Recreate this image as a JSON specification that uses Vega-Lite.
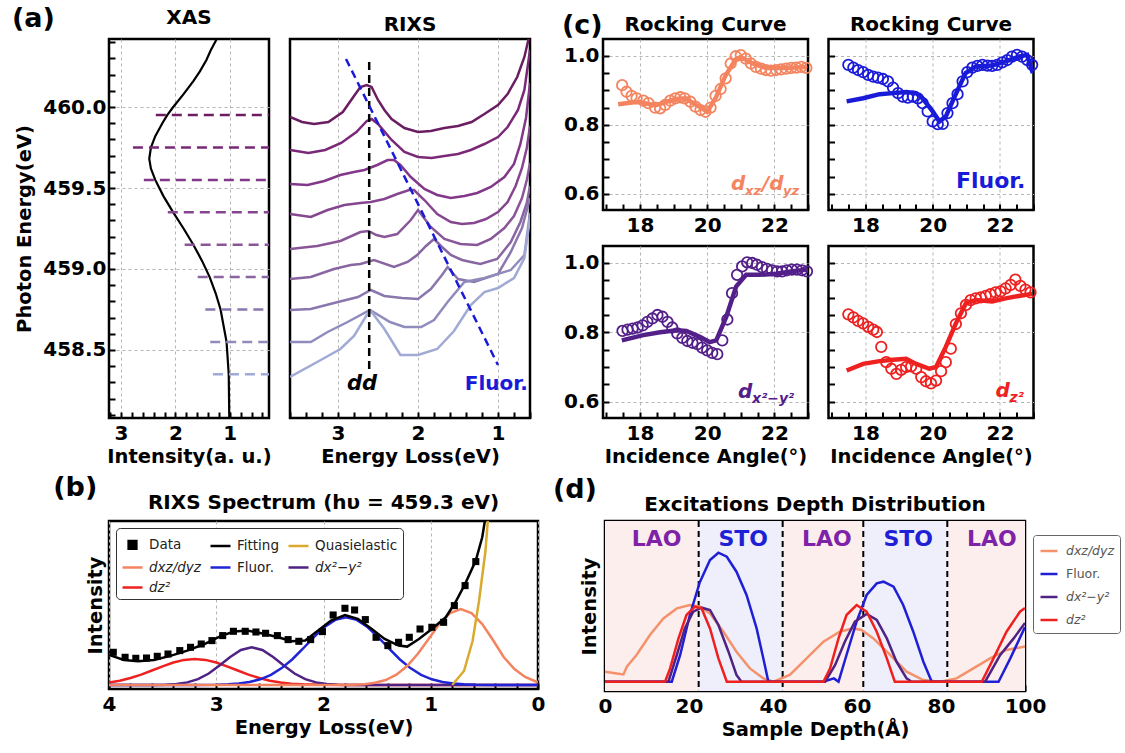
{
"$schema":"https://vega.github.io/schema/vega-lite/v6.json",
"background":"white",
"padding":{"left":12,"top":4,"right":5,"bottom":5},
"config":{
 "font":"DejaVu Sans",
 "view":{"stroke":"black","strokeWidth":2.5},
 "axis":{"labelFont":"DejaVu Sans","labelFontWeight":"bold","labelFontSize":20,"labelColor":"black",
   "titleFont":"DejaVu Sans","titleFontWeight":"bold","titleFontSize":19.5,"titleColor":"black",
   "domain":false,"ticks":true,"tickColor":"black","tickWidth":2,"tickSize":-6,"tickCount":200,
   "gridColor":"#b5b5b5","gridDash":[3,3],"gridWidth":1,"labelOverlap":false,"labelFlush":false},
 "title":{"font":"DejaVu Sans","fontWeight":"bold","fontSize":20,"color":"black","offset":0,"anchor":"middle"},
 "legend":{"labelFont":"DejaVu Sans"}
},
"datasets":{
 "xas":[{"i":1.01,"e":458.08},{"i":1.02,"e":458.35},{"i":1.06,"e":458.55},{"i":1.17,"e":458.75},{"i":1.26,"e":458.85},{"i":1.37,"e":458.95},{"i":1.51,"e":459.05},{"i":1.67,"e":459.15},{"i":1.85,"e":459.25},{"i":2.04,"e":459.35},{"i":2.22,"e":459.45},{"i":2.37,"e":459.55},{"i":2.45,"e":459.62},{"i":2.48,"e":459.68},{"i":2.45,"e":459.75},{"i":2.37,"e":459.82},{"i":2.24,"e":459.9},{"i":2.15,"e":459.95},{"i":2.04,"e":460.0},{"i":1.85,"e":460.08},{"i":1.67,"e":460.16},{"i":1.55,"e":460.22},{"i":1.43,"e":460.29},{"i":1.35,"e":460.35},{"i":1.24,"e":460.42}],
 "xasdash":[{"k":1,"e":459.95,"i0":2.36},{"k":2,"e":459.75,"i0":2.78},{"k":3,"e":459.55,"i0":2.58},{"k":4,"e":459.35,"i0":2.14},{"k":5,"e":459.15,"i0":1.83},{"k":6,"e":458.95,"i0":1.59},{"k":7,"e":458.75,"i0":1.45},{"k":8,"e":458.55,"i0":1.36},{"k":9,"e":458.35,"i0":1.31}],
 "rixs":[
 {"k":1,"e":3.6,"y":301},{"k":1,"e":3.45,"y":296},{"k":1,"e":3.3,"y":294},{"k":1,"e":3.12,"y":296},{"k":1,"e":2.94,"y":306},{"k":1,"e":2.8,"y":322},{"k":1,"e":2.72,"y":331},{"k":1,"e":2.64,"y":333},{"k":1,"e":2.58,"y":331},{"k":1,"e":2.5,"y":318},{"k":1,"e":2.42,"y":308},{"k":1,"e":2.33,"y":299},{"k":1,"e":2.17,"y":290},{"k":1,"e":2.0,"y":286},{"k":1,"e":1.84,"y":287},{"k":1,"e":1.67,"y":290},{"k":1,"e":1.5,"y":292},{"k":1,"e":1.33,"y":296},{"k":1,"e":1.17,"y":304},{"k":1,"e":1.0,"y":313},{"k":1,"e":0.88,"y":324},{"k":1,"e":0.76,"y":341},{"k":1,"e":0.67,"y":361},{"k":1,"e":0.6,"y":385},
 {"k":2,"e":3.6,"y":268},{"k":2,"e":3.37,"y":265},{"k":2,"e":3.16,"y":268},{"k":2,"e":2.96,"y":275},{"k":2,"e":2.77,"y":286},{"k":2,"e":2.64,"y":297},{"k":2,"e":2.58,"y":299},{"k":2,"e":2.5,"y":294},{"k":2,"e":2.33,"y":278},{"k":2,"e":2.17,"y":266},{"k":2,"e":2.0,"y":261},{"k":2,"e":1.83,"y":260},{"k":2,"e":1.67,"y":262},{"k":2,"e":1.5,"y":264},{"k":2,"e":1.34,"y":268},{"k":2,"e":1.17,"y":274},{"k":2,"e":1.0,"y":281},{"k":2,"e":0.88,"y":291},{"k":2,"e":0.75,"y":308},{"k":2,"e":0.67,"y":328},{"k":2,"e":0.6,"y":368},
 {"k":3,"e":3.6,"y":234},{"k":3,"e":3.38,"y":233},{"k":3,"e":3.17,"y":237},{"k":3,"e":2.97,"y":243},{"k":3,"e":2.8,"y":246},{"k":3,"e":2.67,"y":248},{"k":3,"e":2.51,"y":253},{"k":3,"e":2.38,"y":258},{"k":3,"e":2.3,"y":258},{"k":3,"e":2.22,"y":253},{"k":3,"e":2.09,"y":241},{"k":3,"e":1.92,"y":229},{"k":3,"e":1.76,"y":223},{"k":3,"e":1.59,"y":220},{"k":3,"e":1.42,"y":222},{"k":3,"e":1.26,"y":225},{"k":3,"e":1.09,"y":231},{"k":3,"e":0.92,"y":241},{"k":3,"e":0.8,"y":254},{"k":3,"e":0.72,"y":274},{"k":3,"e":0.65,"y":300},{"k":3,"e":0.6,"y":335},
 {"k":4,"e":3.6,"y":204},{"k":4,"e":3.34,"y":201},{"k":4,"e":3.13,"y":208},{"k":4,"e":2.92,"y":213},{"k":4,"e":2.72,"y":215},{"k":4,"e":2.59,"y":216},{"k":4,"e":2.42,"y":219},{"k":4,"e":2.26,"y":224},{"k":4,"e":2.11,"y":228},{"k":4,"e":2.05,"y":228},{"k":4,"e":1.92,"y":218},{"k":4,"e":1.76,"y":204},{"k":4,"e":1.59,"y":196},{"k":4,"e":1.45,"y":194},{"k":4,"e":1.3,"y":195},{"k":4,"e":1.15,"y":199},{"k":4,"e":1.0,"y":206},{"k":4,"e":0.88,"y":216},{"k":4,"e":0.78,"y":232},{"k":4,"e":0.7,"y":250},{"k":4,"e":0.64,"y":270},{"k":4,"e":0.6,"y":292},
 {"k":5,"e":3.6,"y":169},{"k":5,"e":3.26,"y":172},{"k":5,"e":2.97,"y":177},{"k":5,"e":2.72,"y":186},{"k":5,"e":2.62,"y":187},{"k":5,"e":2.52,"y":183},{"k":5,"e":2.42,"y":181},{"k":5,"e":2.26,"y":184},{"k":5,"e":2.09,"y":198},{"k":5,"e":2.0,"y":208},{"k":5,"e":1.84,"y":191},{"k":5,"e":1.67,"y":179},{"k":5,"e":1.47,"y":174},{"k":5,"e":1.26,"y":173},{"k":5,"e":1.09,"y":179},{"k":5,"e":0.92,"y":190},{"k":5,"e":0.8,"y":202},{"k":5,"e":0.7,"y":220},{"k":5,"e":0.64,"y":238},{"k":5,"e":0.6,"y":255},
 {"k":6,"e":3.6,"y":139},{"k":6,"e":3.34,"y":141},{"k":6,"e":3.05,"y":149},{"k":6,"e":2.84,"y":153},{"k":6,"e":2.72,"y":154},{"k":6,"e":2.55,"y":158},{"k":6,"e":2.3,"y":151},{"k":6,"e":2.13,"y":156},{"k":6,"e":2.01,"y":163},{"k":6,"e":1.9,"y":172},{"k":6,"e":1.8,"y":179},{"k":6,"e":1.7,"y":171},{"k":6,"e":1.59,"y":163},{"k":6,"e":1.45,"y":158},{"k":6,"e":1.34,"y":156},{"k":6,"e":1.22,"y":154},{"k":6,"e":1.01,"y":159},{"k":6,"e":0.84,"y":176},{"k":6,"e":0.72,"y":196},{"k":6,"e":0.64,"y":215},{"k":6,"e":0.6,"y":232},
 {"k":7,"e":3.6,"y":108},{"k":7,"e":3.34,"y":109},{"k":7,"e":3.0,"y":116},{"k":7,"e":2.75,"y":121},{"k":7,"e":2.59,"y":128},{"k":7,"e":2.42,"y":122},{"k":7,"e":2.2,"y":120},{"k":7,"e":2.0,"y":119},{"k":7,"e":1.84,"y":129},{"k":7,"e":1.7,"y":143},{"k":7,"e":1.63,"y":151},{"k":7,"e":1.5,"y":139},{"k":7,"e":1.3,"y":136},{"k":7,"e":1.0,"y":144},{"k":7,"e":0.84,"y":166},{"k":7,"e":0.7,"y":190},{"k":7,"e":0.6,"y":220},
 {"k":8,"e":3.6,"y":76},{"k":8,"e":3.34,"y":76},{"k":8,"e":3.13,"y":86},{"k":8,"e":2.88,"y":96},{"k":8,"e":2.6,"y":108},{"k":8,"e":2.35,"y":96},{"k":8,"e":2.17,"y":91},{"k":8,"e":1.96,"y":91},{"k":8,"e":1.8,"y":98},{"k":8,"e":1.63,"y":116},{"k":8,"e":1.42,"y":136},{"k":8,"e":1.17,"y":140},{"k":8,"e":0.84,"y":148},{"k":8,"e":0.67,"y":163},{"k":8,"e":0.6,"y":205},
 {"k":9,"e":3.6,"y":41},{"k":9,"e":3.26,"y":56},{"k":9,"e":2.97,"y":69},{"k":9,"e":2.8,"y":82},{"k":9,"e":2.64,"y":103},{"k":9,"e":2.58,"y":106},{"k":9,"e":2.42,"y":89},{"k":9,"e":2.22,"y":63},{"k":9,"e":2.0,"y":63},{"k":9,"e":1.76,"y":69},{"k":9,"e":1.55,"y":87},{"k":9,"e":1.34,"y":113},{"k":9,"e":1.17,"y":126},{"k":9,"e":1.0,"y":130},{"k":9,"e":0.8,"y":140},{"k":9,"e":0.67,"y":160},{"k":9,"e":0.6,"y":200}
 ],
 "c1p":[{"a":17.47,"v":0.915},{"a":17.6,"v":0.896},{"a":17.75,"v":0.884},{"a":17.9,"v":0.877},{"a":18.1,"v":0.87},{"a":18.25,"v":0.863},{"a":18.45,"v":0.85},{"a":18.6,"v":0.848},{"a":18.75,"v":0.858},{"a":18.9,"v":0.87},{"a":19.05,"v":0.877},{"a":19.2,"v":0.88},{"a":19.33,"v":0.877},{"a":19.5,"v":0.867},{"a":19.65,"v":0.853},{"a":19.8,"v":0.843},{"a":19.95,"v":0.838},{"a":20.1,"v":0.85},{"a":20.25,"v":0.884},{"a":20.4,"v":0.904},{"a":20.55,"v":0.935},{"a":20.7,"v":0.978},{"a":20.85,"v":0.999},{"a":21.0,"v":1.002},{"a":21.15,"v":0.992},{"a":21.3,"v":0.978},{"a":21.45,"v":0.968},{"a":21.6,"v":0.963},{"a":21.75,"v":0.959},{"a":21.9,"v":0.957},{"a":22.05,"v":0.959},{"a":22.2,"v":0.961},{"a":22.35,"v":0.963},{"a":22.5,"v":0.965},{"a":22.65,"v":0.966},{"a":22.8,"v":0.968},{"a":22.95,"v":0.965}],
 "c1f":[{"a":17.35,"v":0.86},{"a":17.95,"v":0.867},{"a":18.45,"v":0.856},{"a":19.05,"v":0.875},{"a":19.35,"v":0.877},{"a":19.85,"v":0.848},{"a":20.0,"v":0.838},{"a":20.25,"v":0.877},{"a":20.55,"v":0.944},{"a":20.85,"v":0.99},{"a":21.0,"v":0.997},{"a":21.35,"v":0.978},{"a":21.75,"v":0.965},{"a":22.35,"v":0.965},{"a":22.95,"v":0.968}],
 "c2p":[{"a":17.49,"v":0.974},{"a":17.64,"v":0.966},{"a":17.78,"v":0.959},{"a":17.93,"v":0.953},{"a":18.08,"v":0.945},{"a":18.23,"v":0.94},{"a":18.37,"v":0.937},{"a":18.52,"v":0.933},{"a":18.67,"v":0.926},{"a":18.82,"v":0.908},{"a":18.97,"v":0.892},{"a":19.11,"v":0.882},{"a":19.26,"v":0.879},{"a":19.41,"v":0.882},{"a":19.56,"v":0.877},{"a":19.7,"v":0.863},{"a":19.85,"v":0.839},{"a":20.0,"v":0.81},{"a":20.15,"v":0.802},{"a":20.3,"v":0.803},{"a":20.44,"v":0.834},{"a":20.59,"v":0.863},{"a":20.74,"v":0.889},{"a":20.89,"v":0.926},{"a":21.03,"v":0.953},{"a":21.18,"v":0.966},{"a":21.33,"v":0.971},{"a":21.48,"v":0.974},{"a":21.63,"v":0.972},{"a":21.77,"v":0.971},{"a":21.92,"v":0.974},{"a":22.07,"v":0.981},{"a":22.22,"v":0.988},{"a":22.36,"v":0.998},{"a":22.51,"v":1.003},{"a":22.66,"v":0.998},{"a":22.81,"v":0.988},{"a":22.96,"v":0.974}],
 "c2f":[{"a":17.44,"v":0.868},{"a":17.93,"v":0.877},{"a":18.42,"v":0.889},{"a":18.82,"v":0.892},{"a":19.21,"v":0.895},{"a":19.51,"v":0.892},{"a":19.7,"v":0.877},{"a":20.0,"v":0.839},{"a":20.2,"v":0.81},{"a":20.39,"v":0.824},{"a":20.59,"v":0.868},{"a":20.79,"v":0.911},{"a":20.98,"v":0.95},{"a":21.28,"v":0.969},{"a":21.77,"v":0.972},{"a":22.17,"v":0.984},{"a":22.56,"v":0.998},{"a":22.81,"v":1.003},{"a":22.98,"v":0.95}],
 "c3p":[{"a":17.48,"v":0.804},{"a":17.63,"v":0.808},{"a":17.78,"v":0.811},{"a":17.93,"v":0.814},{"a":18.08,"v":0.82},{"a":18.22,"v":0.83},{"a":18.37,"v":0.84},{"a":18.52,"v":0.85},{"a":18.67,"v":0.845},{"a":18.82,"v":0.83},{"a":18.96,"v":0.814},{"a":19.11,"v":0.797},{"a":19.26,"v":0.784},{"a":19.41,"v":0.775},{"a":19.56,"v":0.77},{"a":19.71,"v":0.766},{"a":19.85,"v":0.756},{"a":20.0,"v":0.748},{"a":20.15,"v":0.741},{"a":20.3,"v":0.737},{"a":20.45,"v":0.777},{"a":20.6,"v":0.837},{"a":20.74,"v":0.913},{"a":20.89,"v":0.966},{"a":21.04,"v":0.99},{"a":21.19,"v":1.002},{"a":21.34,"v":1.0},{"a":21.48,"v":0.995},{"a":21.63,"v":0.988},{"a":21.78,"v":0.983},{"a":21.93,"v":0.979},{"a":22.08,"v":0.976},{"a":22.23,"v":0.976},{"a":22.37,"v":0.979},{"a":22.52,"v":0.981},{"a":22.67,"v":0.981},{"a":22.82,"v":0.979},{"a":22.97,"v":0.976}],
 "c3f":[{"a":17.46,"v":0.777},{"a":18.1,"v":0.792},{"a":18.6,"v":0.8},{"a":19.09,"v":0.806},{"a":19.38,"v":0.804},{"a":19.78,"v":0.787},{"a":20.07,"v":0.772},{"a":20.27,"v":0.777},{"a":20.57,"v":0.845},{"a":20.86,"v":0.932},{"a":21.16,"v":0.966},{"a":21.56,"v":0.966},{"a":22.05,"v":0.969},{"a":22.54,"v":0.976},{"a":22.99,"v":0.981}],
 "c4p":[{"a":17.49,"v":0.852},{"a":17.64,"v":0.843},{"a":17.78,"v":0.833},{"a":17.93,"v":0.826},{"a":18.08,"v":0.816},{"a":18.23,"v":0.808},{"a":18.34,"v":0.801},{"a":18.47,"v":0.758},{"a":18.62,"v":0.714},{"a":18.77,"v":0.695},{"a":18.92,"v":0.68},{"a":19.06,"v":0.692},{"a":19.21,"v":0.7},{"a":19.36,"v":0.702},{"a":19.51,"v":0.695},{"a":19.66,"v":0.671},{"a":19.8,"v":0.659},{"a":19.95,"v":0.653},{"a":20.1,"v":0.661},{"a":20.25,"v":0.688},{"a":20.39,"v":0.714},{"a":20.54,"v":0.753},{"a":20.69,"v":0.824},{"a":20.84,"v":0.855},{"a":20.99,"v":0.879},{"a":21.13,"v":0.893},{"a":21.28,"v":0.898},{"a":21.43,"v":0.901},{"a":21.58,"v":0.905},{"a":21.72,"v":0.91},{"a":21.87,"v":0.915},{"a":22.02,"v":0.918},{"a":22.17,"v":0.927},{"a":22.32,"v":0.937},{"a":22.46,"v":0.952},{"a":22.61,"v":0.934},{"a":22.76,"v":0.923},{"a":22.91,"v":0.915}],
 "c4f":[{"a":17.44,"v":0.69},{"a":17.93,"v":0.709},{"a":18.42,"v":0.717},{"a":18.82,"v":0.721},{"a":19.21,"v":0.724},{"a":19.51,"v":0.709},{"a":19.9,"v":0.695},{"a":20.1,"v":0.7},{"a":20.39,"v":0.758},{"a":20.69,"v":0.826},{"a":20.99,"v":0.884},{"a":21.28,"v":0.893},{"a":21.77,"v":0.889},{"a":22.17,"v":0.898},{"a":22.56,"v":0.905},{"a":22.96,"v":0.911}],
 "bdata":[{"s":"Data","e":3.96,"y":32.7},{"s":"Data","e":3.85,"y":27.7},{"s":"Data","e":3.75,"y":26.7},{"s":"Data","e":3.65,"y":27},{"s":"Data","e":3.55,"y":28.7},{"s":"Data","e":3.45,"y":31},{"s":"Data","e":3.34,"y":34.4},{"s":"Data","e":3.24,"y":37.7},{"s":"Data","e":3.14,"y":41},{"s":"Data","e":3.04,"y":44.4},{"s":"Data","e":2.94,"y":49.4},{"s":"Data","e":2.84,"y":53.7},{"s":"Data","e":2.73,"y":53.7},{"s":"Data","e":2.63,"y":53},{"s":"Data","e":2.54,"y":51.7},{"s":"Data","e":2.43,"y":49.4},{"s":"Data","e":2.33,"y":45.4},{"s":"Data","e":2.23,"y":43.7},{"s":"Data","e":2.12,"y":45.4},{"s":"Data","e":2.01,"y":53.4},{"s":"Data","e":1.91,"y":70},{"s":"Data","e":1.8,"y":76.7},{"s":"Data","e":1.71,"y":75},{"s":"Data","e":1.61,"y":65.4},{"s":"Data","e":1.51,"y":47.7},{"s":"Data","e":1.4,"y":39.4},{"s":"Data","e":1.3,"y":42.7},{"s":"Data","e":1.2,"y":47.7},{"s":"Data","e":1.1,"y":56},{"s":"Data","e":0.99,"y":57.7},{"s":"Data","e":0.88,"y":62.7},{"s":"Data","e":0.78,"y":79.4},{"s":"Data","e":0.68,"y":99.4},{"s":"Data","e":0.58,"y":123.4}],
 "bfit":[{"s":"Fitting","e":4.0,"y":30},{"s":"Fitting","e":3.98,"y":29.4},{"s":"Fitting","e":3.86,"y":25},{"s":"Fitting","e":3.73,"y":23.7},{"s":"Fitting","e":3.58,"y":25},{"s":"Fitting","e":3.42,"y":29.4},{"s":"Fitting","e":3.27,"y":34.4},{"s":"Fitting","e":3.11,"y":41},{"s":"Fitting","e":2.95,"y":49.4},{"s":"Fitting","e":2.83,"y":53.4},{"s":"Fitting","e":2.71,"y":54.4},{"s":"Fitting","e":2.58,"y":51.7},{"s":"Fitting","e":2.42,"y":47.7},{"s":"Fitting","e":2.3,"y":43.7},{"s":"Fitting","e":2.17,"y":44.4},{"s":"Fitting","e":2.05,"y":54.4},{"s":"Fitting","e":1.93,"y":64.4},{"s":"Fitting","e":1.8,"y":70},{"s":"Fitting","e":1.68,"y":66},{"s":"Fitting","e":1.55,"y":56},{"s":"Fitting","e":1.43,"y":46},{"s":"Fitting","e":1.3,"y":39.4},{"s":"Fitting","e":1.22,"y":38.4},{"s":"Fitting","e":1.11,"y":46},{"s":"Fitting","e":0.99,"y":56},{"s":"Fitting","e":0.86,"y":67.7},{"s":"Fitting","e":0.77,"y":82.7},{"s":"Fitting","e":0.68,"y":101},{"s":"Fitting","e":0.58,"y":124.4},{"s":"Fitting","e":0.52,"y":147.7},{"s":"Fitting","e":0.49,"y":167.7}],
 "bcomp":[
 {"s":"dz²","e":4.0,"y":2.5},{"s":"dz²","e":3.9,"y":4.3},{"s":"dz²","e":3.8,"y":7.0},{"s":"dz²","e":3.7,"y":10.4},{"s":"dz²","e":3.6,"y":14.5},{"s":"dz²","e":3.5,"y":18.7},{"s":"dz²","e":3.4,"y":22.5},{"s":"dz²","e":3.3,"y":25.1},{"s":"dz²","e":3.2,"y":26},{"s":"dz²","e":3.1,"y":25.1},{"s":"dz²","e":3.0,"y":22.5},{"s":"dz²","e":2.9,"y":18.7},{"s":"dz²","e":2.8,"y":14.5},{"s":"dz²","e":2.7,"y":10.4},{"s":"dz²","e":2.6,"y":7.0},{"s":"dz²","e":2.5,"y":4.3},{"s":"dz²","e":2.4,"y":2.5},{"s":"dz²","e":2.3,"y":1.35},{"s":"dz²","e":2.2,"y":0.67},{"s":"dz²","e":2.0,"y":0.14},{"s":"dz²","e":1.8,"y":0},{"s":"dz²","e":0,"y":0},
 {"s":"dx²−y²","e":4.0,"y":0},{"s":"dx²−y²","e":3.57,"y":0.1},{"s":"dx²−y²","e":3.47,"y":0.33},{"s":"dx²−y²","e":3.37,"y":1.0},{"s":"dx²−y²","e":3.27,"y":2.6},{"s":"dx²−y²","e":3.17,"y":5.9},{"s":"dx²−y²","e":3.07,"y":11.5},{"s":"dx²−y²","e":2.97,"y":19.4},{"s":"dx²−y²","e":2.87,"y":28.0},{"s":"dx²−y²","e":2.77,"y":35.0},{"s":"dx²−y²","e":2.67,"y":37.7},{"s":"dx²−y²","e":2.57,"y":35.0},{"s":"dx²−y²","e":2.47,"y":28.0},{"s":"dx²−y²","e":2.37,"y":19.4},{"s":"dx²−y²","e":2.27,"y":11.5},{"s":"dx²−y²","e":2.17,"y":5.9},{"s":"dx²−y²","e":2.07,"y":2.6},{"s":"dx²−y²","e":1.97,"y":1.0},{"s":"dx²−y²","e":1.87,"y":0.33},{"s":"dx²−y²","e":1.77,"y":0.1},{"s":"dx²−y²","e":1.5,"y":0},{"s":"dx²−y²","e":0,"y":0},
 {"s":"Fluor.","e":4.0,"y":0},{"s":"Fluor.","e":3.19,"y":0},{"s":"Fluor.","e":2.99,"y":0.26},{"s":"Fluor.","e":2.89,"y":0.64},{"s":"Fluor.","e":2.79,"y":1.4},{"s":"Fluor.","e":2.69,"y":3.0},{"s":"Fluor.","e":2.59,"y":5.7},{"s":"Fluor.","e":2.49,"y":10.2},{"s":"Fluor.","e":2.39,"y":16.9},{"s":"Fluor.","e":2.29,"y":25.8},{"s":"Fluor.","e":2.19,"y":36.5},{"s":"Fluor.","e":2.09,"y":47.9},{"s":"Fluor.","e":1.99,"y":58.0},{"s":"Fluor.","e":1.89,"y":65.1},{"s":"Fluor.","e":1.79,"y":67.7},{"s":"Fluor.","e":1.69,"y":65.1},{"s":"Fluor.","e":1.59,"y":58.0},{"s":"Fluor.","e":1.49,"y":47.9},{"s":"Fluor.","e":1.39,"y":36.5},{"s":"Fluor.","e":1.29,"y":25.8},{"s":"Fluor.","e":1.19,"y":16.9},{"s":"Fluor.","e":1.09,"y":10.2},{"s":"Fluor.","e":0.99,"y":5.7},{"s":"Fluor.","e":0.89,"y":3.0},{"s":"Fluor.","e":0.79,"y":1.4},{"s":"Fluor.","e":0.69,"y":0.64},{"s":"Fluor.","e":0.59,"y":0.26},{"s":"Fluor.","e":0.39,"y":0},{"s":"Fluor.","e":0,"y":0},
 {"s":"dxz/dyz","e":4.0,"y":0},{"s":"dxz/dyz","e":2.0,"y":0},{"s":"dxz/dyz","e":1.72,"y":0.3},{"s":"dxz/dyz","e":1.62,"y":0.84},{"s":"dxz/dyz","e":1.52,"y":2.2},{"s":"dxz/dyz","e":1.42,"y":5.0},{"s":"dxz/dyz","e":1.32,"y":10.3},{"s":"dxz/dyz","e":1.22,"y":18.9},{"s":"dxz/dyz","e":1.12,"y":31.2},{"s":"dxz/dyz","e":1.02,"y":46.1},{"s":"dxz/dyz","e":0.92,"y":60.9},{"s":"dxz/dyz","e":0.82,"y":71.9},{"s":"dxz/dyz","e":0.72,"y":76},{"s":"dxz/dyz","e":0.62,"y":71.9},{"s":"dxz/dyz","e":0.52,"y":60.9},{"s":"dxz/dyz","e":0.42,"y":45},{"s":"dxz/dyz","e":0.32,"y":28},{"s":"dxz/dyz","e":0.22,"y":16},{"s":"dxz/dyz","e":0.12,"y":8},{"s":"dxz/dyz","e":0.02,"y":3.5},{"s":"dxz/dyz","e":0,"y":3},
 {"s":"Quasielastic","e":0.8,"y":0},{"s":"Quasielastic","e":0.69,"y":14},{"s":"Quasielastic","e":0.61,"y":44},{"s":"Quasielastic","e":0.55,"y":84},{"s":"Quasielastic","e":0.49,"y":134},{"s":"Quasielastic","e":0.46,"y":175}
 ],
 "dlayers":[{"x0":0,"x1":22.3,"layer":"LAO","mid":12.3},{"x0":22.3,"x1":42.3,"layer":"STO","mid":32.9},{"x0":42.3,"x1":61.5,"layer":"LAO","mid":52.8},{"x0":61.5,"x1":81.5,"layer":"STO","mid":72.2},{"x0":81.5,"x1":100,"layer":"LAO","mid":92.1}],
 "dlines":[
 {"s":"dxz/dyz","x":0,"y":19.3},{"s":"dxz/dyz","x":2.8,"y":17.6},{"s":"dxz/dyz","x":4.4,"y":16.6},{"s":"dxz/dyz","x":5.2,"y":24.3},{"s":"dxz/dyz","x":7.5,"y":36},{"s":"dxz/dyz","x":10.7,"y":56},{"s":"dxz/dyz","x":13.9,"y":72.6},{"s":"dxz/dyz","x":17.1,"y":82.6},{"s":"dxz/dyz","x":20.2,"y":86},{"s":"dxz/dyz","x":22.6,"y":84.3},{"s":"dxz/dyz","x":25,"y":77.6},{"s":"dxz/dyz","x":28.2,"y":59.3},{"s":"dxz/dyz","x":31.3,"y":39.3},{"s":"dxz/dyz","x":34.5,"y":22.6},{"s":"dxz/dyz","x":37.7,"y":12.6},{"s":"dxz/dyz","x":40.1,"y":9.3},{"s":"dxz/dyz","x":44,"y":16},{"s":"dxz/dyz","x":48,"y":32.6},{"s":"dxz/dyz","x":52,"y":49.3},{"s":"dxz/dyz","x":55.9,"y":59.3},{"s":"dxz/dyz","x":59.1,"y":62.6},{"s":"dxz/dyz","x":61.1,"y":61},{"s":"dxz/dyz","x":63.9,"y":52.6},{"s":"dxz/dyz","x":67.9,"y":36},{"s":"dxz/dyz","x":71.8,"y":19.3},{"s":"dxz/dyz","x":75.8,"y":11},{"s":"dxz/dyz","x":79.8,"y":9.3},{"s":"dxz/dyz","x":83.7,"y":12.6},{"s":"dxz/dyz","x":87.7,"y":22.6},{"s":"dxz/dyz","x":91.7,"y":32.6},{"s":"dxz/dyz","x":95.6,"y":41},{"s":"dxz/dyz","x":100,"y":44.5},
 {"s":"Fluor.","x":0,"y":9.3},{"s":"Fluor.","x":15.9,"y":9.3},{"s":"Fluor.","x":17.9,"y":36},{"s":"Fluor.","x":20.2,"y":76},{"s":"Fluor.","x":22.6,"y":109},{"s":"Fluor.","x":25,"y":131},{"s":"Fluor.","x":27,"y":138.3},{"s":"Fluor.","x":29,"y":134.3},{"s":"Fluor.","x":31.3,"y":119.3},{"s":"Fluor.","x":33.7,"y":96},{"s":"Fluor.","x":36.1,"y":62.6},{"s":"Fluor.","x":37.7,"y":32.6},{"s":"Fluor.","x":38.9,"y":9.3},{"s":"Fluor.","x":52,"y":9.3},{"s":"Fluor.","x":54.5,"y":12.6},{"s":"Fluor.","x":55.6,"y":9.3},{"s":"Fluor.","x":57.5,"y":36},{"s":"Fluor.","x":59.9,"y":69.3},{"s":"Fluor.","x":62.3,"y":96},{"s":"Fluor.","x":64.7,"y":107.6},{"s":"Fluor.","x":66.3,"y":109.3},{"s":"Fluor.","x":68.7,"y":104.3},{"s":"Fluor.","x":71,"y":86},{"s":"Fluor.","x":73.4,"y":59.3},{"s":"Fluor.","x":75.8,"y":29.3},{"s":"Fluor.","x":77.8,"y":9.3},{"s":"Fluor.","x":93.7,"y":9.3},{"s":"Fluor.","x":96.5,"y":32.6},{"s":"Fluor.","x":100,"y":64},
 {"s":"dx²−y²","x":0,"y":9.3},{"s":"dx²−y²","x":15.1,"y":9.3},{"s":"dx²−y²","x":17.1,"y":36},{"s":"dx²−y²","x":19,"y":62.6},{"s":"dx²−y²","x":21,"y":79.3},{"s":"dx²−y²","x":23,"y":83.3},{"s":"dx²−y²","x":25,"y":81},{"s":"dx²−y²","x":27,"y":66},{"s":"dx²−y²","x":29.4,"y":39.3},{"s":"dx²−y²","x":31.3,"y":16},{"s":"dx²−y²","x":32.5,"y":9.3},{"s":"dx²−y²","x":52.4,"y":9.3},{"s":"dx²−y²","x":54.8,"y":26},{"s":"dx²−y²","x":57.1,"y":49.3},{"s":"dx²−y²","x":59.5,"y":69.3},{"s":"dx²−y²","x":62.3,"y":77},{"s":"dx²−y²","x":64.7,"y":71},{"s":"dx²−y²","x":67.1,"y":52.6},{"s":"dx²−y²","x":69.4,"y":29.3},{"s":"dx²−y²","x":71.8,"y":12.6},{"s":"dx²−y²","x":73,"y":9.3},{"s":"dx²−y²","x":90.5,"y":9.3},{"s":"dx²−y²","x":94.1,"y":36},{"s":"dx²−y²","x":97.3,"y":52.6},{"s":"dx²−y²","x":100,"y":68},
 {"s":"dz²","x":0,"y":9.3},{"s":"dz²","x":14.3,"y":9.3},{"s":"dz²","x":15.5,"y":22.6},{"s":"dz²","x":17.5,"y":52.6},{"s":"dz²","x":19.4,"y":76},{"s":"dz²","x":21.4,"y":84.3},{"s":"dz²","x":23,"y":82.6},{"s":"dz²","x":25,"y":62.6},{"s":"dz²","x":27,"y":32.6},{"s":"dz²","x":29,"y":9.3},{"s":"dz²","x":52,"y":9.3},{"s":"dz²","x":53.6,"y":22.6},{"s":"dz²","x":55.6,"y":52.6},{"s":"dz²","x":57.5,"y":76},{"s":"dz²","x":59.9,"y":86},{"s":"dz²","x":62.3,"y":79.3},{"s":"dz²","x":64.7,"y":59.3},{"s":"dz²","x":67.1,"y":32.6},{"s":"dz²","x":69,"y":9.3},{"s":"dz²","x":89.7,"y":9.3},{"s":"dz²","x":92.5,"y":32.6},{"s":"dz²","x":95.6,"y":59.3},{"s":"dz²","x":98.8,"y":79.3},{"s":"dz²","x":100,"y":83}
 ]
},
"spacing":5,
"resolve":{"scale":{"x":"independent","y":"independent","color":"independent","fill":"independent"},"axis":{"x":"independent","y":"independent"},"legend":{"color":"independent","fill":"independent"}},
"vconcat":[
 {"spacing":29,
  "resolve":{"scale":{"x":"independent","y":"independent","color":"independent"},"axis":{"x":"independent","y":"independent"},"legend":{"color":"independent"}},
  "hconcat":[
   {"title":{"text":"(a)","anchor":"start","frame":"group","fontSize":27,"dx":-97,"dy":30},
    "bounds":"flush","spacing":21,
    "resolve":{"scale":{"x":"independent","y":"independent","color":"independent"},"axis":{"x":"independent","y":"independent"},"legend":{"color":"independent"}},
    "hconcat":[
     {"width":160,"height":379,"title":{"text":"XAS"},
      "layer":[
       {"data":{"name":"xas"},"mark":{"type":"line","color":"black","strokeWidth":2.2,"clip":true},
        "encoding":{
         "x":{"field":"i","type":"quantitative","scale":{"domain":[0.28,3.22],"reverse":true,"nice":false,"zero":false},
              "axis":{"values":[0.4,0.6,0.8,1,1.2,1.4,1.6,1.8,2,2.2,2.4,2.6,2.8,3,3.2],"labelExpr":"abs(datum.value-round(datum.value))<0.001 ? format(datum.value,'d') : ''","gridOpacity":{"condition":{"test":"abs(datum.value-round(datum.value))<0.001","value":1},"value":0},"title":"Intensity(a. u.)","labelPadding":11,"titlePadding":4}},
         "y":{"field":"e","type":"quantitative","scale":{"domain":[458.08,460.42],"nice":false,"zero":false},
              "axis":{"values":[458.1,458.2,458.3,458.4,458.5,458.6,458.7,458.8,458.9,459,459.1,459.2,459.3,459.4,459.5,459.6,459.7,459.8,459.9,460,460.1,460.2,460.3,460.4],"labelExpr":"abs(datum.value*2-round(datum.value*2))<0.001 ? format(datum.value,'.1f') : ''","gridOpacity":{"condition":{"test":"abs(datum.value*2-round(datum.value*2))<0.001","value":1},"value":0},"title":"Photon Energy(eV)","labelPadding":9,"titlePadding":8}},
         "order":{"field":"e","type":"quantitative"}}},
       {"data":{"name":"xasdash"},"mark":{"type":"rule","strokeDash":[10,6],"strokeWidth":2.5,"clip":true},
        "encoding":{"x":{"field":"i0","type":"quantitative"},"x2":{"datum":0.28},"y":{"field":"e","type":"quantitative"},
         "color":{"field":"k","type":"ordinal","scale":{"domain":[1,2,3,4,5,6,7,8,9],"range":["#6b1d62","#7a2877","#823789","#86468f","#895698","#8966a1","#8a77ad","#8f8cbd","#a0aad4"]},"legend":null}}}
      ]},
     {"width":240,"height":379,"title":{"text":"RIXS"},
      "layer":[
       {"data":{"name":"rixs"},"mark":{"type":"line","strokeWidth":2.5,"clip":true},
        "encoding":{
         "x":{"field":"e","type":"quantitative","scale":{"domain":[0.6,3.6],"reverse":true,"nice":false,"zero":false},
              "axis":{"values":[0.6,0.8,1,1.2,1.4,1.6,1.8,2,2.2,2.4,2.6,2.8,3,3.2,3.4,3.6],"labelExpr":"abs(datum.value-round(datum.value))<0.001 ? format(datum.value,'d') : ''","gridOpacity":{"condition":{"test":"abs(datum.value-round(datum.value))<0.001","value":1},"value":0},"title":"Energy Loss(eV)","labelPadding":11,"titlePadding":4}},
         "y":{"field":"y","type":"quantitative","scale":{"domain":[0,379],"nice":false,"zero":false},"axis":null},
         "color":{"field":"k","type":"ordinal","scale":{"domain":[1,2,3,4,5,6,7,8,9],"range":["#6b1d62","#7a2877","#823789","#86468f","#895698","#8966a1","#8a77ad","#8f8cbd","#a0aad4"]},"legend":null}}},
       {"data":{"values":[{}]},"mark":{"type":"rule","strokeDash":[8,5],"strokeWidth":2.5,"color":"black"},
        "encoding":{"x":{"datum":2.61},"y":{"datum":49},"y2":{"datum":361}}},
       {"data":{"values":[{}]},"mark":{"type":"rule","strokeDash":[8,5],"strokeWidth":2.5,"color":"#1a1ad9"},
        "encoding":{"x":{"datum":2.9},"x2":{"datum":1.0},"y":{"datum":359},"y2":{"datum":53}}},
       {"data":{"values":[{}]},"mark":{"type":"text","text":"dd","fontStyle":"italic","fontWeight":"bold","fontSize":21,"color":"black","baseline":"alphabetic","align":"center"},
        "encoding":{"x":{"datum":2.7},"y":{"datum":28}}},
       {"data":{"values":[{}]},"mark":{"type":"text","text":"Fluor.","fontWeight":"bold","fontSize":20,"color":"#1a1ad9","baseline":"alphabetic","align":"center"},
        "encoding":{"x":{"datum":1.02},"y":{"datum":28}}}
      ]}
    ]},
   {"title":{"text":"(c)","anchor":"start","frame":"group","fontSize":27,"dx":-41,"dy":30},
    "spacing":7.5,
    "resolve":{"scale":{"x":"independent","y":"independent"},"axis":{"x":"independent","y":"independent"}},
    "hconcat":[
     {"bounds":"flush","spacing":36,"resolve":{"scale":{"x":"independent","y":"independent"},"axis":{"x":"independent","y":"independent"}},
      "vconcat":[
       {"width":205,"height":171,"title":{"text":"Rocking Curve"},
        "layer":[
         {"data":{"name":"c1p"},"mark":{"type":"point","shape":"circle","filled":false,"size":110,"strokeWidth":1.8,"color":"#f4845f","opacity":1},
          "encoding":{
           "x":{"field":"a","type":"quantitative","scale":{"domain":[16.9,23.0],"nice":false,"zero":false},
                "axis":{"values":[17,17.5,18,18.5,19,19.5,20,20.5,21,21.5,22,22.5,23],"labelExpr":"datum.value % 2 === 0 ? format(datum.value,'d') : ''","gridOpacity":{"condition":{"test":"datum.value % 2 === 0","value":1},"value":0},"title":null,"labelPadding":11}},
           "y":{"field":"v","type":"quantitative","scale":{"domain":[0.553,1.049],"nice":false,"zero":false},
                "axis":{"values":[0.6,0.65,0.7,0.75,0.8,0.85,0.9,0.95,1.0],"labelExpr":"abs(datum.value*5-round(datum.value*5))<0.001 ? format(datum.value,'.1f') : ''","gridOpacity":{"condition":{"test":"abs(datum.value*5-round(datum.value*5))<0.001","value":1},"value":0},"title":null,"labelPadding":10}}}},
         {"data":{"name":"c1f"},"mark":{"type":"line","color":"#f4845f","strokeWidth":4.5,"clip":true},
          "encoding":{"x":{"field":"a","type":"quantitative"},"y":{"field":"v","type":"quantitative"}}},
         {"data":{"values":[{}]},"mark":{"type":"text","text":"d","fontStyle":"italic","fontWeight":"bold","fontSize":20,"color":"#f4845f","align":"left","baseline":"alphabetic"},"encoding":{"x":{"datum":20.71},"y":{"datum":0.611}}},
         {"data":{"values":[{}]},"mark":{"type":"text","text":"xz","fontStyle":"italic","fontWeight":"bold","fontSize":13,"color":"#f4845f","align":"left","baseline":"alphabetic","dx":14,"dy":5},"encoding":{"x":{"datum":20.71},"y":{"datum":0.611}}},
         {"data":{"values":[{}]},"mark":{"type":"text","text":"/d","fontStyle":"italic","fontWeight":"bold","fontSize":20,"color":"#f4845f","align":"left","baseline":"alphabetic","dx":31},"encoding":{"x":{"datum":20.71},"y":{"datum":0.611}}},
         {"data":{"values":[{}]},"mark":{"type":"text","text":"yz","fontStyle":"italic","fontWeight":"bold","fontSize":13,"color":"#f4845f","align":"left","baseline":"alphabetic","dx":52,"dy":5},"encoding":{"x":{"datum":20.71},"y":{"datum":0.611}}}
        ]},
       {"width":205,"height":172,
        "layer":[
         {"data":{"name":"c3p"},"mark":{"type":"point","shape":"circle","filled":false,"size":110,"strokeWidth":1.8,"color":"#53208a","opacity":1},
          "encoding":{
           "x":{"field":"a","type":"quantitative","scale":{"domain":[16.9,23.0],"nice":false,"zero":false},
                "axis":{"values":[17,17.5,18,18.5,19,19.5,20,20.5,21,21.5,22,22.5,23],"labelExpr":"datum.value % 2 === 0 ? format(datum.value,'d') : ''","gridOpacity":{"condition":{"test":"datum.value % 2 === 0","value":1},"value":0},"title":"Incidence Angle(°)","labelPadding":11,"titlePadding":4}},
           "y":{"field":"v","type":"quantitative","scale":{"domain":[0.553,1.049],"nice":false,"zero":false},
                "axis":{"values":[0.6,0.65,0.7,0.75,0.8,0.85,0.9,0.95,1.0],"labelExpr":"abs(datum.value*5-round(datum.value*5))<0.001 ? format(datum.value,'.1f') : ''","gridOpacity":{"condition":{"test":"abs(datum.value*5-round(datum.value*5))<0.001","value":1},"value":0},"title":null,"labelPadding":10}}}},
         {"data":{"name":"c3f"},"mark":{"type":"line","color":"#53208a","strokeWidth":4.5,"clip":true},
          "encoding":{"x":{"field":"a","type":"quantitative"},"y":{"field":"v","type":"quantitative"}}},
         {"data":{"values":[{}]},"mark":{"type":"text","text":"d","fontStyle":"italic","fontWeight":"bold","fontSize":20,"color":"#53208a","align":"left","baseline":"alphabetic"},"encoding":{"x":{"datum":20.92},"y":{"datum":0.61}}},
         {"data":{"values":[{}]},"mark":{"type":"text","text":"x²−y²","fontStyle":"italic","fontWeight":"bold","fontSize":14,"color":"#53208a","align":"left","baseline":"alphabetic","dx":14,"dy":5},"encoding":{"x":{"datum":20.92},"y":{"datum":0.61}}}
        ]}
      ]},
     {"bounds":"flush","spacing":36,"resolve":{"scale":{"x":"independent","y":"independent"},"axis":{"x":"independent","y":"independent"}},
      "vconcat":[
       {"width":205,"height":171,"title":{"text":"Rocking Curve"},
        "layer":[
         {"data":{"name":"c2p"},"mark":{"type":"point","shape":"circle","filled":false,"size":110,"strokeWidth":1.8,"color":"#1a1ad9","opacity":1},
          "encoding":{
           "x":{"field":"a","type":"quantitative","scale":{"domain":[16.9,23.0],"nice":false,"zero":false},
                "axis":{"values":[17,17.5,18,18.5,19,19.5,20,20.5,21,21.5,22,22.5,23],"labelExpr":"datum.value % 2 === 0 ? format(datum.value,'d') : ''","gridOpacity":{"condition":{"test":"datum.value % 2 === 0","value":1},"value":0},"title":null,"labelPadding":11}},
           "y":{"field":"v","type":"quantitative","scale":{"domain":[0.553,1.049],"nice":false,"zero":false},
                "axis":{"values":[0.6,0.65,0.7,0.75,0.8,0.85,0.9,0.95,1.0],"labels":false,"gridOpacity":{"condition":{"test":"abs(datum.value*5-round(datum.value*5))<0.001","value":1},"value":0},"title":null}}}},
         {"data":{"name":"c2f"},"mark":{"type":"line","color":"#1a1ad9","strokeWidth":4.5,"clip":true},
          "encoding":{"x":{"field":"a","type":"quantitative"},"y":{"field":"v","type":"quantitative"}}},
         {"data":{"values":[{}]},"mark":{"type":"text","text":"Fluor.","fontWeight":"bold","fontSize":22,"color":"#1a1ad9","align":"right","baseline":"alphabetic"},"encoding":{"x":{"datum":22.76},"y":{"datum":0.617}}}
        ]},
       {"width":205,"height":172,
        "layer":[
         {"data":{"name":"c4p"},"mark":{"type":"point","shape":"circle","filled":false,"size":110,"strokeWidth":1.8,"color":"#ee2020","opacity":1},
          "encoding":{
           "x":{"field":"a","type":"quantitative","scale":{"domain":[16.9,23.0],"nice":false,"zero":false},
                "axis":{"values":[17,17.5,18,18.5,19,19.5,20,20.5,21,21.5,22,22.5,23],"labelExpr":"datum.value % 2 === 0 ? format(datum.value,'d') : ''","gridOpacity":{"condition":{"test":"datum.value % 2 === 0","value":1},"value":0},"title":"Incidence Angle(°)","labelPadding":11,"titlePadding":4}},
           "y":{"field":"v","type":"quantitative","scale":{"domain":[0.553,1.049],"nice":false,"zero":false},
                "axis":{"values":[0.6,0.65,0.7,0.75,0.8,0.85,0.9,0.95,1.0],"labels":false,"gridOpacity":{"condition":{"test":"abs(datum.value*5-round(datum.value*5))<0.001","value":1},"value":0},"title":null}}}},
         {"data":{"name":"c4f"},"mark":{"type":"line","color":"#ee2020","strokeWidth":4.5,"clip":true},
          "encoding":{"x":{"field":"a","type":"quantitative"},"y":{"field":"v","type":"quantitative"}}},
         {"data":{"values":[{}]},"mark":{"type":"text","text":"d","fontStyle":"italic","fontWeight":"bold","fontSize":20,"color":"#ee2020","align":"left","baseline":"alphabetic"},"encoding":{"x":{"datum":21.87},"y":{"datum":0.614}}},
         {"data":{"values":[{}]},"mark":{"type":"text","text":"z²","fontStyle":"italic","fontWeight":"bold","fontSize":14,"color":"#ee2020","align":"left","baseline":"alphabetic","dx":14,"dy":5},"encoding":{"x":{"datum":21.87},"y":{"datum":0.614}}}
        ]}
      ]}
    ]}
  ]},
 {"bounds":"flush","spacing":67,
  "resolve":{"scale":{"x":"independent","y":"independent","color":"independent","fill":"independent"},"axis":{"x":"independent","y":"independent"},"legend":{"color":"independent","fill":"independent"}},
  "hconcat":[
   {"width":429,"height":168,"title":{"text":"RIXS Spectrum (hυ =  459.3 eV)","dy":43},
    "layer":[
     {"data":{"name":"bcomp"},"mark":{"type":"line","strokeWidth":2.5,"clip":true},
      "encoding":{
       "x":{"field":"e","type":"quantitative","scale":{"domain":[0,4],"reverse":true,"nice":false,"zero":false},
            "axis":{"values":[0,0.2,0.4,0.6,0.8,1,1.2,1.4,1.6,1.8,2,2.2,2.4,2.6,2.8,3,3.2,3.4,3.6,3.8,4],"labelExpr":"abs(datum.value-round(datum.value))<0.001 ? format(datum.value,'d') : ''","gridOpacity":{"condition":{"test":"abs(datum.value-round(datum.value))<0.001","value":1},"value":0},"title":"Energy Loss(eV)","labelPadding":11,"titlePadding":4}},
       "y":{"field":"y","type":"quantitative","scale":{"domain":[-4,164],"nice":false,"zero":false},"axis":{"title":"Intensity","labels":false,"ticks":false,"grid":false,"titlePadding":4}},
       "color":{"field":"s","type":"nominal","scale":{"domain":["Data","Fitting","Quasielastic","dxz/dyz","Fluor.","dx²−y²","dz²"],"range":["black","black","#d9aa2e","#f4845f","#1f24d6","#4f2283","#ee2020"]},
        "legend":{"orient":"top-left","offset":7,"columns":3,"direction":"horizontal","title":null,
          "labelFont":"DejaVu Sans","labelFontSize":13.5,"labelFontWeight":"normal","labelColor":"#222",
          "symbolSize":400,"symbolStrokeWidth":2.5,"symbolType":"stroke","labelOffset":5,"columnPadding":4,"rowPadding":2,
          "padding":5,"strokeColor":"#333","fillColor":"white","cornerRadius":4,
          "encode":{
            "symbols":{"update":{
              "shape":{"signal":"datum.value === 'Data' ? 'square' : 'stroke'"},
              "size":{"signal":"datum.value === 'Data' ? 60 : 400"},
              "fill":{"signal":"datum.value === 'Data' ? 'black' : 'transparent'"},
              "stroke":{"signal":"datum.value === 'Data' ? 'transparent' : datum.value === 'Fitting' ? 'black' : datum.value === 'Quasielastic' ? '#d9aa2e' : datum.value === 'dxz/dyz' ? '#f4845f' : datum.value === 'Fluor.' ? '#1f24d6' : datum.value === 'dz²' ? '#ee2020' : '#4f2283'"},
              "strokeWidth":{"value":2.5},
              "opacity":{"value":1}}},
            "labels":{"update":{"fontStyle":{"signal":"indexof(['Data','Fitting','Quasielastic','Fluor.'], datum.value) >= 0 ? 'normal' : 'italic'"}}}}}}}},
     {"data":{"name":"bfit"},"mark":{"type":"line","strokeWidth":2.5,"clip":true},
      "encoding":{"x":{"field":"e","type":"quantitative"},"y":{"field":"y","type":"quantitative"},"color":{"field":"s","type":"nominal"}}},
     {"data":{"name":"bdata"},"mark":{"type":"point","shape":"square","filled":true,"size":50,"opacity":1},
      "encoding":{"x":{"field":"e","type":"quantitative"},"y":{"field":"y","type":"quantitative"},"color":{"field":"s","type":"nominal"}}},
     {"data":{"values":[{}]},"mark":{"type":"text","text":"(b)","fontSize":27,"fontWeight":"bold","color":"black","align":"left","baseline":"alphabetic"},
      "encoding":{"x":{"datum":4.52},"y":{"datum":189}}}
    ]},
   {"width":420,"height":170,"title":{"text":"Excitations Depth Distribution","dy":43},
    "layer":[
     {"data":{"name":"dlayers"},"mark":{"type":"rect"},
      "encoding":{
       "x":{"field":"x0","type":"quantitative","scale":{"domain":[0,100],"nice":false,"zero":false},
            "axis":{"values":[0,5,10,15,20,25,30,35,40,45,50,55,60,65,70,75,80,85,90,95,100],"labelExpr":"datum.value % 20 === 0 ? format(datum.value,'d') : ''","grid":false,"title":"Sample Depth(Å)","labelPadding":11,"titlePadding":4}},
       "x2":{"field":"x1"},
       "fill":{"field":"layer","type":"nominal","scale":{"domain":["LAO","STO"],"range":["#fdeeee","#eeeffb"]},"legend":null}}},
     {"data":{"name":"dlayers"},"transform":[{"filter":"datum.x1 < 100"}],"mark":{"type":"rule","strokeDash":[6,4],"strokeWidth":2,"color":"black"},
      "encoding":{"x":{"field":"x1","type":"quantitative"}}},
     {"data":{"name":"dlines"},"mark":{"type":"line","strokeWidth":2.5,"clip":true},
      "encoding":{
       "x":{"field":"x","type":"quantitative"},
       "y":{"field":"y","type":"quantitative","scale":{"domain":[0,170],"nice":false,"zero":false},"axis":{"title":"Intensity","labels":false,"ticks":false,"grid":false,"titlePadding":6}},
       "color":{"field":"s","type":"nominal","scale":{"domain":["dxz/dyz","Fluor.","dx²−y²","dz²"],"range":["#f4926b","#1f1fd6","#4f2283","#ee2020"]},
        "legend":{"orient":"none","legendX":428,"legendY":14,"title":null,"labelFont":"DejaVu Sans","labelFontSize":12.5,"labelFontWeight":"normal","labelColor":"#555",
          "symbolType":"stroke","symbolSize":289,"symbolStrokeWidth":2.5,"labelOffset":7,"rowPadding":6,"padding":6,"strokeColor":"#666","fillColor":"white","cornerRadius":3,
          "encode":{"labels":{"update":{"fontStyle":{"signal":"datum.value === 'Fluor.' ? 'normal' : 'italic'"}}}}}}}},
     {"data":{"name":"dlayers"},"transform":[{"filter":"datum.layer === 'LAO'"}],"mark":{"type":"text","fontSize":22,"fontWeight":"bold","color":"#7e22a8","baseline":"middle"},
      "encoding":{"x":{"field":"mid","type":"quantitative"},"y":{"datum":152},"text":{"field":"layer"}}},
     {"data":{"name":"dlayers"},"transform":[{"filter":"datum.layer === 'STO'"}],"mark":{"type":"text","fontSize":22,"fontWeight":"bold","color":"#1f1fd6","baseline":"middle"},
      "encoding":{"x":{"field":"mid","type":"quantitative"},"y":{"datum":152},"text":{"field":"layer"}}},
     {"data":{"values":[{}]},"mark":{"type":"text","text":"(d)","fontSize":27,"fontWeight":"bold","color":"black","align":"left","baseline":"alphabetic"},
      "encoding":{"x":{"datum":-12.4},"y":{"datum":193}}}
    ]}
  ]}
]
}
